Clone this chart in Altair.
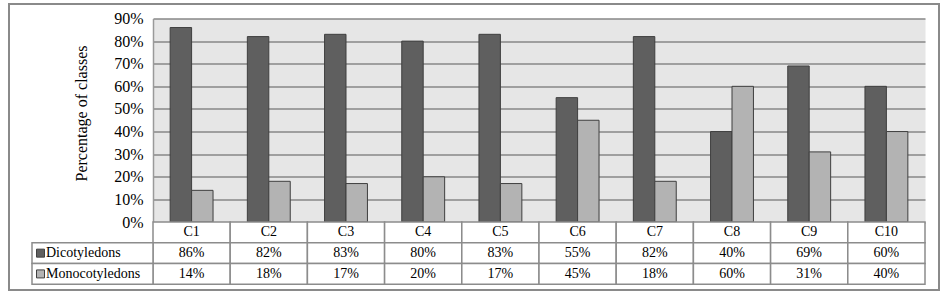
import altair as alt
import pandas as pd

categories = ["C1", "C2", "C3", "C4", "C5", "C6", "C7", "C8", "C9", "C10"]
dicot = [86, 82, 83, 80, 83, 55, 82, 40, 69, 60]
monocot = [14, 18, 17, 20, 17, 45, 18, 60, 31, 40]
series = ["Dicotyledons", "Monocotyledons"]
y_ticks = [0, 0.1, 0.2, 0.3, 0.4, 0.5, 0.6, 0.7, 0.8, 0.9]
header_key = "header"
rows = [header_key] + series

FONT = "'Liberation Serif', 'Times New Roman', Times, serif"
GRID = "#878787"
LINE = "#8c8c8c"

bars_df = pd.DataFrame({
    "cat": categories * 2,
    "series": [series[0]] * len(categories) + [series[1]] * len(categories),
    "value": [v / 100 for v in dicot + monocot],
})

table_df = pd.DataFrame({
    "cat": categories * 3,
    "row": [header_key] * len(categories) + [series[0]] * len(categories) + [series[1]] * len(categories),
    "label": categories + [f"{v}%" for v in dicot] + [f"{v}%" for v in monocot],
})
legend_df = pd.DataFrame({"row": series, "series": series})
frame_df = pd.DataFrame({"k": [0]})

x_enc = alt.X("cat:N", sort=categories,
              scale=alt.Scale(domain=categories, paddingInner=0, paddingOuter=0), axis=None)
color_scale = alt.Scale(domain=series, range=["#5f5f5f", "#b3b3b3"])
row_y = alt.Y("row:N", sort=rows,
              scale=alt.Scale(domain=rows, range=[203.5, 265.8], paddingInner=0, paddingOuter=0),
              axis=None)

bars = alt.Chart(bars_df).mark_bar(stroke="#3f3f3f", strokeWidth=1).encode(
    x=x_enc,
    xOffset=alt.XOffset("series:N", sort=series,
                        scale=alt.Scale(domain=series, paddingInner=0, paddingOuter=0.8)),
    y=alt.Y("value:Q",
            scale=alt.Scale(domain=[0, 0.9], nice=False, zero=True),
            axis=alt.Axis(values=y_ticks, format=".0%", title="Percentage of classes",
                          grid=True, gridColor=GRID, gridWidth=1.5, ticks=False,
                          labelPadding=10, labelFont=FONT, labelFontSize=16, labelColor="black",
                          titleFont=FONT, titleFontSize=16, titleFontWeight="normal",
                          titleColor="black", titleAngle=270, titleX=-67, titleY=94.5,
                          titleAlign="center", titleBaseline="alphabetic",
                          domain=True, domainColor="#9a9a9a", domainWidth=1.5)),
    color=alt.Color("series:N", scale=color_scale, legend=None),
)

cells = alt.Chart(table_df).mark_rect(fill="white", stroke=LINE, strokeWidth=1.5).encode(
    x=x_enc, y=row_y,
)
cell_text = alt.Chart(table_df).mark_text(font=FONT, fontSize=14, color="black",
                                          baseline="middle", align="center").encode(
    x=x_enc, y=row_y, text="label:N",
)
legend_cells = alt.Chart(legend_df).mark_rect(fill="white", stroke=LINE, strokeWidth=1.5).encode(
    x=alt.value(-121), x2=alt.value(0), y=row_y,
)
swatches = alt.Chart(legend_df).mark_square(size=64, stroke="#404040", strokeWidth=1, opacity=1).encode(
    x=alt.value(-112.5), y=row_y,
    fill=alt.Fill("series:N", scale=color_scale, legend=None),
)
legend_text = alt.Chart(legend_df).mark_text(font=FONT, fontSize=14, color="black",
                                             align="left", baseline="middle").encode(
    x=alt.value(-107), y=row_y, text="row:N",
)
frame = alt.Chart(frame_df).mark_rect(fillOpacity=0, stroke="#8a8a8a", strokeWidth=2).encode(
    x=alt.value(-144), x2=alt.value(786), y=alt.value(-14.5), y2=alt.value(271.5),
)

table = alt.layer(cells, cell_text, legend_cells, swatches, legend_text, frame)

chart = alt.layer(bars, table).resolve_scale(y="independent").properties(
    width=772, height=203.5,
    autosize=alt.AutoSizeParams(type="none"),
    padding={"left": 153, "top": 18.5, "right": 16, "bottom": 71},
    background="white",
).configure_view(fill="#e6e6e6", stroke="transparent")

chart.save("out.html", embed_options={"renderer": "svg", "actions": False})
